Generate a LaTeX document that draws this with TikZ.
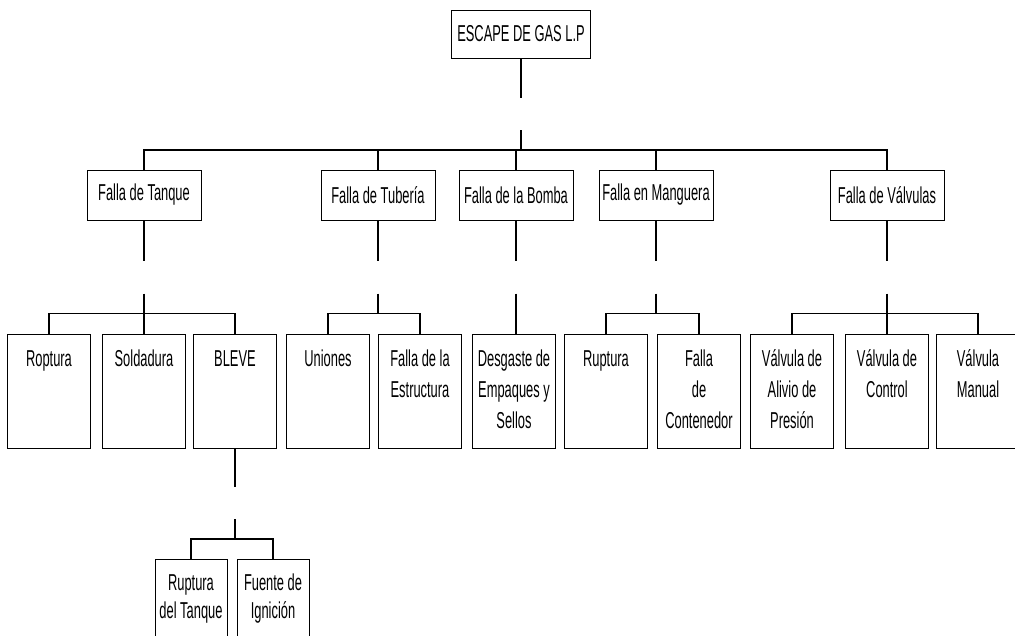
\documentclass[tikz,border=0pt]{standalone}
\usepackage{fontspec}
\setmainfont[FakeStretch=0.56]{Liberation Sans}
\tikzset{
  falla/.style={draw, line width=1pt, minimum width=114pt, minimum height=50pt,
    inner sep=0pt, font=\fontsize{23}{25}\selectfont},
  hoja/.style={draw, line width=1pt, anchor=north, inner sep=0pt,
    minimum width=83pt, font=\fontsize{23}{31}\selectfont},
  hojita/.style={hoja, minimum width=72pt, font=\fontsize{23}{28}\selectfont},
  linea/.style={line width=1.4pt}
}
\begin{document}
\begin{tikzpicture}[x=1pt,y=-1pt]
  \useasboundingbox (0,0) rectangle (1015,635);
  \clip (0,0) rectangle (1015,635);
  \def\hoja(#1,#2)#3#4{
    \node [hoja] (#3) at (#1,#2)
      {\parbox[t][114pt][t]{80pt}{\centering\baselineskip=31pt\rule{0pt}{32pt}#4}};
  }

  \node [falla, minimum width=139pt, minimum height=48pt] (escape) at (521,34) {ESCAPE DE GAS L.P};

  \node [falla] (tanque) at (144,195) {Falla de Tanque};
  \node [falla] (tuberia) at (378,195) {Falla de Tubería};
  \node [falla] (bomba) at (516,195) {Falla de la Bomba};
  \node [falla] (manguera) at (656,195) {Falla en Manguera};
  \node [falla] (valvulas) at (887,195) {Falla de Válvulas};

  \hoja(49,334){roptura}{Roptura}
  \hoja(144,334){soldadura}{Soldadura}
  \hoja(235,334){bleve}{BLEVE}
  \hoja(328,334){uniones}{Uniones}
  \hoja(420,334){estructura}{Falla de la\\Estructura}
  \hoja(514,334){desgaste}{Desgaste de\\Empaques y\\Sellos}
  \hoja(606,334){ruptura}{Ruptura}
  \hoja(699,334){contenedor}{Falla\\de\\Contenedor}
  \hoja(792,334){alivio}{Válvula de\\Alivio de\\Presión}
  \hoja(887,334){control}{Válvula de\\Control}
  \hoja(978,334){manual}{Válvula\\Manual}

  \node [hojita] (rtanque) at (191,559)
    {\parbox[t][100pt][t]{70pt}{\centering\baselineskip=28pt\rule{0pt}{31pt}Ruptura\\del Tanque}};
  \node [hojita] (fuente) at (273,559)
    {\parbox[t][100pt][t]{70pt}{\centering\baselineskip=28pt\rule{0pt}{31pt}Fuente de\\Ignición}};

  \coordinate (escape-b) at (521,130);
  \coordinate (bus0) at (521,150);
  \draw [linea] (escape.south) -- ++(0,39);
  \draw [linea] (escape-b) -- (bus0);
  \draw [linea] (tanque.north) |- (bus0) -| (valvulas.north);
  \foreach \n in {tuberia,bomba,manguera}
    \draw [linea] (\n.north) -- (\n.north |- bus0);

  \foreach \n in {tanque,tuberia,bomba,manguera,valvulas}{
    \draw [linea] (\n.south) -- ++(0,40);
    \path (\n.south) ++(0,73) coordinate (\n-b);
  }
  \draw [linea] (tanque-b) -- ++(0,20) coordinate (bus1);
  \draw [linea] (roptura.north) |- (bus1) -| (bleve.north);
  \draw [linea] (soldadura.north) -- (soldadura.north |- bus1);
  \draw [linea] (tuberia-b) -- ++(0,20) coordinate (bus2);
  \draw [linea] (uniones.north) |- (bus2) -| (estructura.north);
  \draw [linea] (bomba-b) -- (bomba-b |- desgaste.north);
  \draw [linea] (manguera-b) -- ++(0,20) coordinate (bus3);
  \draw [linea] (ruptura.north) |- (bus3) -| (contenedor.north);
  \draw [linea] (valvulas-b) -- ++(0,20) coordinate (bus4);
  \draw [linea] (alivio.north) |- (bus4) -| (manual.north);
  \draw [linea] (control.north) -- (control.north |- bus4);

  \draw [linea] (bleve.south) -- ++(0,38);
  \path (bleve.south) ++(0,70) coordinate (bleve-b);
  \draw [linea] (bleve-b) -- ++(0,20) coordinate (bus5);
  \draw [linea] (rtanque.north) |- (bus5) -| (fuente.north);
\end{tikzpicture}
\end{document}
